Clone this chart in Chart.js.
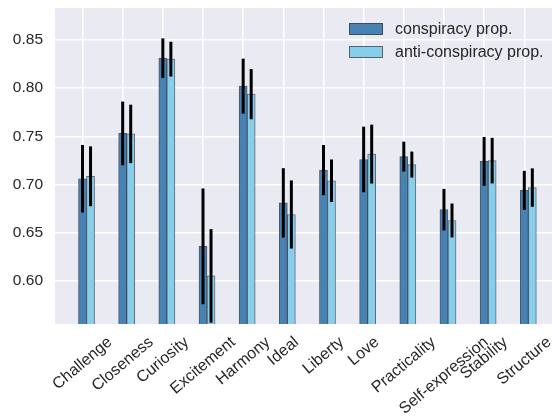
<!DOCTYPE html>
<html>
<head>
<meta charset="utf-8">
<script src="https://cdn.jsdelivr.net/npm/chart.js@4.4.1/dist/chart.umd.min.js"></script>
<style>
    html, body { margin: 0; padding: 0; background: #fff; }
    canvas { display: block; }
</style>
</head>
<body>
<canvas id="valuesChart" width="552" height="419"></canvas>
<script>
// values
const labels = ["Challenge", "Closeness", "Curiosity", "Excitement", "Harmony", "Ideal",
    "Liberty", "Love", "Practicality", "Self-expression", "Stability", "Structure"];
const conspiracy = [0.706, 0.753, 0.831, 0.636, 0.802, 0.681, 0.715, 0.726, 0.729, 0.674, 0.724, 0.694];
const conspiracyErr = [0.035, 0.033, 0.0205, 0.06, 0.0285, 0.036, 0.026, 0.034, 0.0155, 0.0215, 0.0253, 0.0202];
const antiConspiracy = [0.7086, 0.7525, 0.830, 0.6053, 0.7937, 0.669, 0.704, 0.7316, 0.7207, 0.6628, 0.7248, 0.6969];
const antiConspiracyErr = [0.031, 0.0303, 0.018, 0.0485, 0.026, 0.0353, 0.022, 0.0305, 0.0135, 0.0176, 0.0236, 0.0199];
const yTicks = [0.6, 0.65, 0.7, 0.75, 0.8, 0.85];

const FONT = "'Liberation Sans', Arial, sans-serif";
const TEXT = "#262626";
const BAR_SHIFT = 0.2; // second bar sits one bar-width to the right

const plotBackground = {
    id: "plotBackground",
    beforeDraw(chart) {
        const { ctx, chartArea: a } = chart;
        ctx.save();
        ctx.fillStyle = "#EAEAF2";
        ctx.fillRect(a.left, a.top, a.right - a.left, a.bottom - a.top);
        ctx.restore();
    },
};

const errorBars = {
    id: "errorBars",
    afterDatasetsDraw(chart) {
        const { ctx, chartArea: a } = chart;
        const xs = chart.scales.x, ys = chart.scales.y;
        ctx.save();
        ctx.beginPath();
        ctx.rect(a.left, a.top, a.right - a.left, a.bottom - a.top);
        ctx.clip();
        ctx.strokeStyle = "#000";
        ctx.lineWidth = 3;
        chart.data.datasets.forEach((ds) => {
            ds.data.forEach((p, i) => {
                const x = xs.getPixelForValue(p.x);
                ctx.beginPath();
                ctx.moveTo(x, ys.getPixelForValue(p.y + ds.errors[i]));
                ctx.lineTo(x, ys.getPixelForValue(p.y - ds.errors[i]));
                ctx.stroke();
            });
        });
        ctx.restore();
    },
};

// matplotlib style rotated labels, centred on the tick
const xLabels = {
    id: "xLabels",
    afterDraw(chart) {
        const { ctx, chartArea: a } = chart;
        const xs = chart.scales.x;
        const ang = (40 * Math.PI) / 180;
        const h = 11;
        ctx.save();
        ctx.font = "16px " + FONT;
        ctx.fillStyle = TEXT;
        ctx.textAlign = "center";
        ctx.textBaseline = "middle";
        labels.forEach((lab, i) => {
            const w = ctx.measureText(lab).width;
            const cx = xs.getPixelForValue(i);
            const cy = a.bottom + 12 + (w * Math.sin(ang) + h * Math.cos(ang)) / 2;
            ctx.save();
            ctx.translate(cx, cy);
            ctx.rotate(-ang);
            ctx.fillText(lab, 0, 0);
            ctx.restore();
        });
        ctx.restore();
    },
};

const insideLegend = {
    id: "insideLegend",
    afterDraw(chart) {
        const { ctx } = chart;
        ctx.save();
        ctx.font = "16px " + FONT;
        ctx.textBaseline = "middle";
        chart.data.datasets.forEach((ds, i) => {
            const y = 23.5 + i * 23;
            ctx.fillStyle = ds.backgroundColor;
            ctx.fillRect(349.5, y, 33, 11);
            ctx.strokeStyle = ds.borderColor;
            ctx.lineWidth = 1;
            ctx.strokeRect(349.5, y, 33, 11);
            ctx.fillStyle = TEXT;
            ctx.fillText(ds.label, 395, y + 6);
        });
        ctx.restore();
    },
};

const chartData = {
    datasets: [
        {
            label: "conspiracy prop.",
            data: conspiracy.map((v, i) => ({ x: i, y: v })),
            errors: conspiracyErr,
            backgroundColor: "#4682B4",
            borderColor: "rgba(40,48,60,0.8)",
        },
        {
            label: "anti-conspiracy prop.",
            data: antiConspiracy.map((v, i) => ({ x: i + BAR_SHIFT, y: v })),
            errors: antiConspiracyErr,
            backgroundColor: "#87CEEB",
            borderColor: "rgba(40,48,60,0.7)",
        },
    ],
};
chartData.datasets.forEach((ds) => {
    ds.borderWidth = 1;
    ds.barPercentage = 1;
    ds.categoryPercentage = 1;
    ds.grouped = false;
});

const config = {
    type: "bar",
    data: chartData,
    options: {
        responsive: false,
        animation: false,
        layout: { padding: { top: 8, right: 0, left: 0, bottom: 0 } },
        scales: {
            x: {
                type: "linear",
                offset: false,
                min: -0.685,
                max: 11.69,
                afterBuildTicks: (axis) => {
                    axis.ticks = labels.map((l, i) => ({ value: i }));
                },
                afterFit: (axis) => {
                    axis.height = 95;
                    axis.paddingLeft = 0;
                    axis.paddingRight = 0;
                },
                ticks: { display: false },
                grid: { color: "#ffffff", lineWidth: 1.5, drawTicks: false, offset: false },
                border: { display: false },
            },
            y: {
                min: 0.5555,
                max: 0.883,
                afterBuildTicks: (axis) => {
                    axis.ticks = yTicks.map((v) => ({ value: v }));
                },
                afterFit: (axis) => {
                    axis.width = 55;
                    axis.paddingTop = 0;
                    axis.paddingBottom = 0;
                },
                ticks: {
                    callback: (value) => value.toFixed(2),
                    font: { family: FONT, size: 15.5 },
                    color: TEXT,
                    padding: 12,
                },
                grid: { color: "#ffffff", lineWidth: 1.5, drawTicks: false },
                border: { display: false },
            },
        },
        plugins: {
            legend: { display: false },
            tooltip: { enabled: false },
        },
    },
    plugins: [plotBackground, errorBars, xLabels, insideLegend],
};

new Chart(document.getElementById("valuesChart"), config);
</script>
</body>
</html>
